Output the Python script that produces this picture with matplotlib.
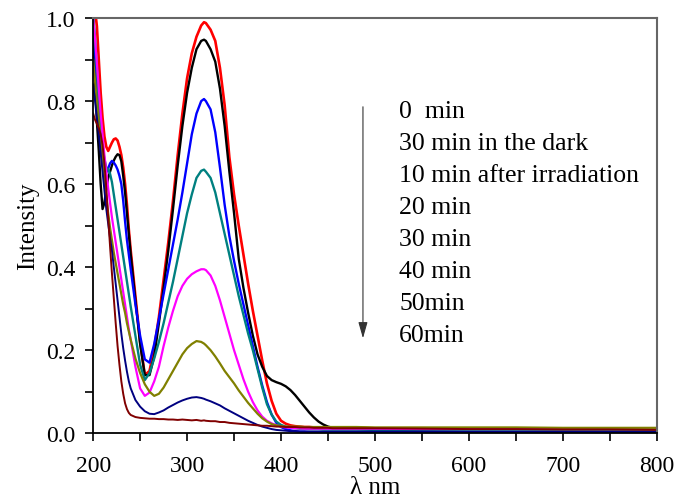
import matplotlib
matplotlib.use("Agg")
import matplotlib.pyplot as plt
from matplotlib.ticker import MultipleLocator

plt.rcParams['font.family'] = ['Liberation Serif', 'DejaVu Serif']

# wavelength grid (nm), shared by every spectrum
wavelength = [200, 202, 204, 206, 208, 210, 212, 214, 216, 218, 220, 222, 224, 226, 228, 230, 232, 234, 236, 238, 240,
              245, 250, 255, 260, 265, 270, 275, 280, 285, 290, 295, 300, 305, 310, 315, 318,
              320, 325, 330, 335, 340, 345, 350, 355, 360, 365, 370, 375, 380, 385, 390, 395, 400,
              405, 410, 415, 420, 425, 430, 435, 440, 445, 450, 455, 460,
              480, 500, 550, 600, 650, 700, 750, 800]

abs_0min = [1.06, 1.02, 0.98, 0.90, 0.82, 0.76, 0.715, 0.69, 0.68, 0.69, 0.70, 0.708, 0.71, 0.705, 0.69, 0.67, 0.64, 0.60, 0.55, 0.49, 0.44,
            0.33, 0.22, 0.14, 0.15, 0.205, 0.28, 0.37, 0.46, 0.56, 0.67, 0.77, 0.855, 0.915, 0.955, 0.982, 0.99,
            0.988, 0.972, 0.945, 0.88, 0.79, 0.665, 0.575, 0.50, 0.43, 0.36, 0.295, 0.235, 0.175, 0.12, 0.078, 0.047, 0.03,
            0.023, 0.019, 0.017, 0.016, 0.015, 0.015, 0.014, 0.014, 0.014, 0.013, 0.013, 0.013,
            0.013, 0.012, 0.012, 0.011, 0.011, 0.011, 0.010, 0.010]

abs_dark = [0.95, 0.85, 0.75, 0.68, 0.60, 0.54, 0.555, 0.59, 0.615, 0.63, 0.645, 0.657, 0.666, 0.672, 0.67, 0.655, 0.62, 0.58, 0.53, 0.48, 0.43,
            0.32, 0.215, 0.14, 0.14, 0.185, 0.265, 0.35, 0.44, 0.54, 0.645, 0.74, 0.82, 0.88, 0.925, 0.945, 0.948,
            0.945, 0.925, 0.895, 0.83, 0.74, 0.63, 0.53, 0.42, 0.35, 0.29, 0.235, 0.19, 0.16, 0.138, 0.128, 0.123, 0.119,
            0.113, 0.104, 0.092, 0.078, 0.064, 0.05, 0.038, 0.028, 0.021, 0.016, 0.013, 0.012,
            0.012, 0.012, 0.011, 0.011, 0.011, 0.010, 0.010, 0.010]

abs_10min = [1.0, 0.92, 0.84, 0.77, 0.71, 0.665, 0.635, 0.628, 0.638, 0.65, 0.656, 0.652, 0.645, 0.635, 0.62, 0.60, 0.56, 0.51, 0.465, 0.43, 0.395,
             0.31, 0.235, 0.178, 0.17, 0.215, 0.275, 0.335, 0.395, 0.455, 0.515, 0.58, 0.65, 0.72, 0.77, 0.80, 0.805,
             0.80, 0.78, 0.725, 0.64, 0.55, 0.475, 0.415, 0.36, 0.31, 0.26, 0.21, 0.16, 0.115, 0.075, 0.045, 0.025, 0.015,
             0.01, 0.007, 0.005, 0.004, 0.004, 0.003, 0.003, 0.003, 0.003, 0.003, 0.003, 0.003,
             0.003, 0.003, 0.003, 0.002, 0.002, 0.002, 0.002, 0.002]

abs_20min = [1.01, 0.95, 0.88, 0.80, 0.74, 0.69, 0.66, 0.64, 0.636, 0.625, 0.605, 0.575, 0.545, 0.515, 0.485, 0.455, 0.425, 0.395, 0.365, 0.335, 0.305,
             0.235, 0.165, 0.128, 0.145, 0.18, 0.22, 0.265, 0.315, 0.365, 0.42, 0.475, 0.53, 0.575, 0.615, 0.632, 0.635,
             0.63, 0.615, 0.58, 0.53, 0.48, 0.43, 0.38, 0.33, 0.285, 0.24, 0.20, 0.155, 0.11, 0.07, 0.045, 0.028, 0.02,
             0.016, 0.014, 0.012, 0.011, 0.011, 0.01, 0.01, 0.01, 0.009, 0.009, 0.009, 0.009,
             0.009, 0.008, 0.008, 0.008, 0.008, 0.008, 0.007, 0.007]

abs_30min = [1.0, 0.95, 0.89, 0.83, 0.77, 0.72, 0.67, 0.63, 0.59, 0.555, 0.52, 0.49, 0.46, 0.43, 0.40, 0.37, 0.34, 0.31, 0.28, 0.25, 0.225,
             0.16, 0.108, 0.09, 0.098, 0.125, 0.16, 0.21, 0.255, 0.295, 0.33, 0.355, 0.372, 0.383, 0.39, 0.395, 0.395,
             0.393, 0.38, 0.355, 0.32, 0.28, 0.24, 0.20, 0.165, 0.13, 0.10, 0.075, 0.055, 0.04, 0.03, 0.024, 0.019, 0.016,
             0.014, 0.013, 0.012, 0.012, 0.011, 0.011, 0.011, 0.011, 0.011, 0.011, 0.011, 0.011,
             0.011, 0.011, 0.01, 0.01, 0.01, 0.01, 0.01, 0.01]

abs_40min = [0.90, 0.85, 0.80, 0.75, 0.70, 0.65, 0.61, 0.57, 0.53, 0.495, 0.465, 0.435, 0.41, 0.385, 0.36, 0.335, 0.31, 0.29, 0.265, 0.245, 0.225,
             0.18, 0.145, 0.118, 0.1, 0.09, 0.095, 0.11, 0.13, 0.15, 0.17, 0.19, 0.205, 0.215, 0.222, 0.22, 0.216,
             0.212, 0.20, 0.185, 0.168, 0.15, 0.135, 0.12, 0.103, 0.088, 0.073, 0.06, 0.047, 0.036, 0.028, 0.022, 0.019, 0.017,
             0.016, 0.016, 0.016, 0.016, 0.015, 0.015, 0.015, 0.015, 0.015, 0.015, 0.015, 0.015,
             0.015, 0.014, 0.014, 0.014, 0.014, 0.013, 0.013, 0.013]

abs_50min = [0.84, 0.80, 0.76, 0.72, 0.675, 0.63, 0.585, 0.54, 0.505, 0.47, 0.44, 0.40, 0.36, 0.32, 0.28, 0.24, 0.205, 0.175, 0.148, 0.125, 0.108,
             0.08, 0.064, 0.053, 0.047, 0.046, 0.05, 0.055, 0.062, 0.068, 0.074, 0.079, 0.083, 0.086, 0.087, 0.085, 0.083,
             0.081, 0.077, 0.072, 0.067, 0.06, 0.054, 0.048, 0.042, 0.036, 0.03, 0.025, 0.02, 0.016, 0.013, 0.01, 0.008, 0.007,
             0.006, 0.005, 0.005, 0.004, 0.004, 0.004, 0.004, 0.004, 0.004, 0.004, 0.004, 0.004,
             0.004, 0.004, 0.004, 0.003, 0.003, 0.003, 0.003, 0.003]

abs_60min = [0.77, 0.755, 0.745, 0.735, 0.72, 0.695, 0.65, 0.59, 0.52, 0.45, 0.385, 0.325, 0.265, 0.21, 0.165, 0.125, 0.095, 0.072, 0.058, 0.049, 0.044,
             0.039, 0.037, 0.036, 0.035, 0.035, 0.034, 0.034, 0.033, 0.033, 0.032, 0.033, 0.032, 0.031, 0.032, 0.03, 0.031,
             0.03, 0.029, 0.029, 0.027, 0.027, 0.025, 0.024, 0.023, 0.022, 0.021, 0.02, 0.019, 0.018, 0.018, 0.017, 0.016, 0.016,
             0.015, 0.015, 0.015, 0.014, 0.014, 0.014, 0.013, 0.013, 0.013, 0.013, 0.012, 0.012,
             0.012, 0.012, 0.011, 0.01, 0.01, 0.009, 0.009, 0.008]

labels = ["0  min", "30 min in the dark", "10 min after irradiation", "20 min",
          "30 min", "40 min", "50min", "60min"]
spectra = [abs_0min, abs_dark, abs_10min, abs_20min, abs_30min, abs_40min, abs_50min, abs_60min]
colors = ['#ff0000', '#000000', '#0000ff', '#008080', '#ff00ff', '#808000', '#000080', '#800000']
widths = [1.9, 1.7, 1.7, 1.7, 1.6, 1.6, 1.4, 1.4]

fig = plt.figure(figsize=(6.75, 5.02), dpi=100)
ax = fig.add_axes([0.138, 0.135, 0.835, 0.827])

for y, c, lw in zip(spectra, colors, widths):
    ax.plot(wavelength, y, color=c, lw=lw)

ax.set_xlim(200, 800)
ax.set_ylim(0, 1.0)
ax.xaxis.set_major_locator(MultipleLocator(100))
ax.xaxis.set_minor_locator(MultipleLocator(50))
ax.yaxis.set_major_locator(MultipleLocator(0.2))
ax.yaxis.set_minor_locator(MultipleLocator(0.1))
ax.tick_params(which='both', direction='out', length=6, width=1.2, top=False, right=False)
ax.tick_params(axis='x', labelsize=17, pad=10)
ax.tick_params(axis='y', labelsize=17, pad=7)

for side in ['left', 'bottom']:
    ax.spines[side].set_linewidth(1.3)
for side in ['top', 'right']:
    ax.spines[side].set_color('#666666')
    ax.spines[side].set_linewidth(1.5)

ax.set_xlabel(u"\u03bb nm", fontsize=18, labelpad=0)
ax.set_ylabel("Intensity", fontsize=18, labelpad=5)

# time labels listed top to bottom, with an arrow showing the decay direction
for i, lab in enumerate(labels):
    ax.text(0.543, 0.776 - i * 0.0771, lab, transform=ax.transAxes,
            fontsize=18.5, va='center', ha='left')
ax.annotate('', xy=(0.4787, 0.222), xytext=(0.4787, 0.793), xycoords='axes fraction',
            arrowprops=dict(arrowstyle='-|>,head_length=0.7,head_width=0.2',
                            color='#333333', lw=0.8, mutation_scale=14))

fig.savefig("out.png", dpi=100)
